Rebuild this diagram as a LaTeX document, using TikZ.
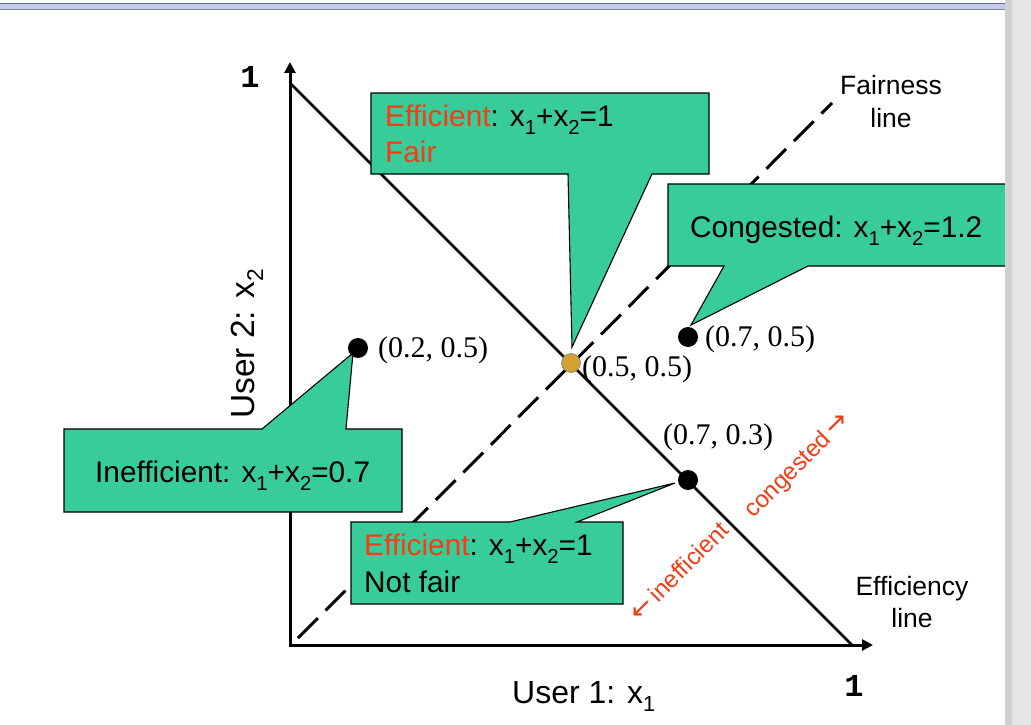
\documentclass[tikz,border=0pt]{standalone}
\usepackage{fontspec}
\setmainfont{Liberation Sans}
\newfontfamily\tms{Liberation Serif}
\newfontfamily\mono{Liberation Mono}
\newfontfamily\arrfont{DejaVu Sans}
\usetikzlibrary{arrows.meta}
\definecolor{callg}{RGB}{56,204,154}
\definecolor{redt}{RGB}{245,60,20}
\definecolor{goldd}{RGB}{212,162,50}
\definecolor{bandA}{RGB}{80,120,120}
\definecolor{bandB}{RGB}{200,200,244}
\definecolor{bandC}{RGB}{120,140,150}
\newcommand\sbs[1]{\raisebox{-0.27em}{\scalebox{0.68}{#1}}}
\begin{document}
\begin{tikzpicture}[x=1pt,y=-1pt,
  callout/.style={fill=callg, draw=black, line width=1.1pt, line join=miter},
  dotb/.style={circle, fill=black, minimum size=20pt, inner sep=0pt},
  ptlab/.style={font=\tms\fontsize{30}{32}\selectfont, anchor=base west, inner sep=0pt},
  txt/.style={font=\fontsize{29.8}{34}\selectfont, anchor=base west, inner sep=0pt},
  lbl/.style={font=\fontsize{26.5}{30}\selectfont, anchor=base, inner sep=0pt},
  redlab/.style={font=\fontsize{24}{28}\selectfont, text=redt, rotate=45, inner sep=0pt},
  axis/.style={line width=3pt, line join=miter, {Triangle[length=11pt,width=11pt]}-{Triangle[length=11pt,width=11pt]}},
  effline/.style={line width=2.5pt},
  fairline/.style={line width=3pt, dash pattern=on 28pt off 11pt}
]
\useasboundingbox (0,0) rectangle (1031,725);
\fill[white] (0,0) rectangle (1031,725);
% top band
\fill[bandA] (0,3) rectangle (1005,4.5);
\fill[bandB] (0,4.5) rectangle (1005,8.8);
\fill[bandC] (0,8.8) rectangle (1005,10);

% coordinates
\coordinate (O) at (290,645);
\coordinate (Ytip) at (290,62);
\coordinate (Xtip) at (873,645);
\coordinate (E1) at (290,83);
\coordinate (E2) at (852,645);
\coordinate (F1) at (298,638);
\coordinate (F2) at (832,103);

% axes and lines
\draw[axis] (Ytip) -- (O) -- (Xtip);
\draw[effline] (E1) -- (E2);
\draw[fairline] (F1) -- (F2);

% callouts
\draw[callout] (371,93) -- (709,93) -- (709,174) -- (652,174) -- (572,347) -- (568,174) -- (371,174) -- cycle;
\draw[callout] (668,184) -- (1010,184) -- (1010,266) -- (808,266) -- (691,325) -- (724,266) -- (668,266) -- cycle;
\draw[callout] (64,429) -- (262,429) -- (353,353) -- (346,429) -- (402,429) -- (402,512) -- (64,512) -- cycle;
\draw[callout] (351,522) -- (510,522) -- (675,483) -- (577,522) -- (623,522) -- (623,604) -- (351,604) -- cycle;

% callout texts
\node[txt] (t1a) at (385,126) {{\color{redt}Efficient}: x\sbs{1}+x\sbs{2}=1};
\node[txt] (t1b) at (385,162) {\color{redt}Fair};
\node[txt] (t2) at (690,237) {Congested: x\sbs{1}+x\sbs{2}=1.2};
\node[txt] (t3) at (95,482) {Inefficient: x\sbs{1}+x\sbs{2}=0.7};
\node[txt] (t4a) at (364,555) {{\color{redt}Efficient}: x\sbs{1}+x\sbs{2}=1};
\node[txt] (t4b) at (364,592) {Not fair};

% points
\node[dotb] (p1) at (358,348) {};
\node[dotb] (p3) at (688,337) {};
\node[dotb] (p4) at (688,480) {};
\node[circle, fill=goldd, draw=black!50, line width=0.6pt, minimum size=19pt, inner sep=0pt] (p2) at (571,363) {};

\node[ptlab] (l1) at (378,357) {(0.2, 0.5)};
\node[ptlab] (l2) at (582,376) {(0.5, 0.5)};
\node[ptlab] (l3) at (705,346) {(0.7, 0.5)};
\node[ptlab] (l4) at (663,444) {(0.7, 0.3)};

% line labels
\node[lbl] (fl1) at (891,95) {Fairness};
\node[lbl] (fl2) at (891,127) {line};
\node[lbl] (el1) at (912,595) {Efficiency};
\node[lbl] (el2) at (912,627) {line};

% red direction labels
\node[redlab] (ri) at (679,571) {{\arrfont\fontsize{27}{28}\selectfont ←}\,inefficient};
\node[redlab] (rc) at (798,466) {congested\,{\arrfont\fontsize{27}{28}\selectfont →}};

% axis labels
\node[font=\fontsize{32}{36}\selectfont, anchor=base west, inner sep=0pt] (ax1) at (512,703) {User 1: x\sbs{1}};
\node[font=\fontsize{33.5}{36}\selectfont, anchor=base, rotate=90, inner sep=0pt] (ax2) at (254,344) {User 2: x\sbs{2}};
\node[font=\mono\bfseries\fontsize{32}{34}\selectfont, anchor=base, inner sep=0pt] (one1) at (250,88) {1};
\node[font=\mono\bfseries\fontsize{32}{34}\selectfont, anchor=base, inner sep=0pt] (one2) at (854,696) {1};

% right border
\fill[black!18] (1005,0) rectangle (1012,725);
\fill[black!10] (1012,0) rectangle (1031,725);
\end{tikzpicture}
\end{document}
